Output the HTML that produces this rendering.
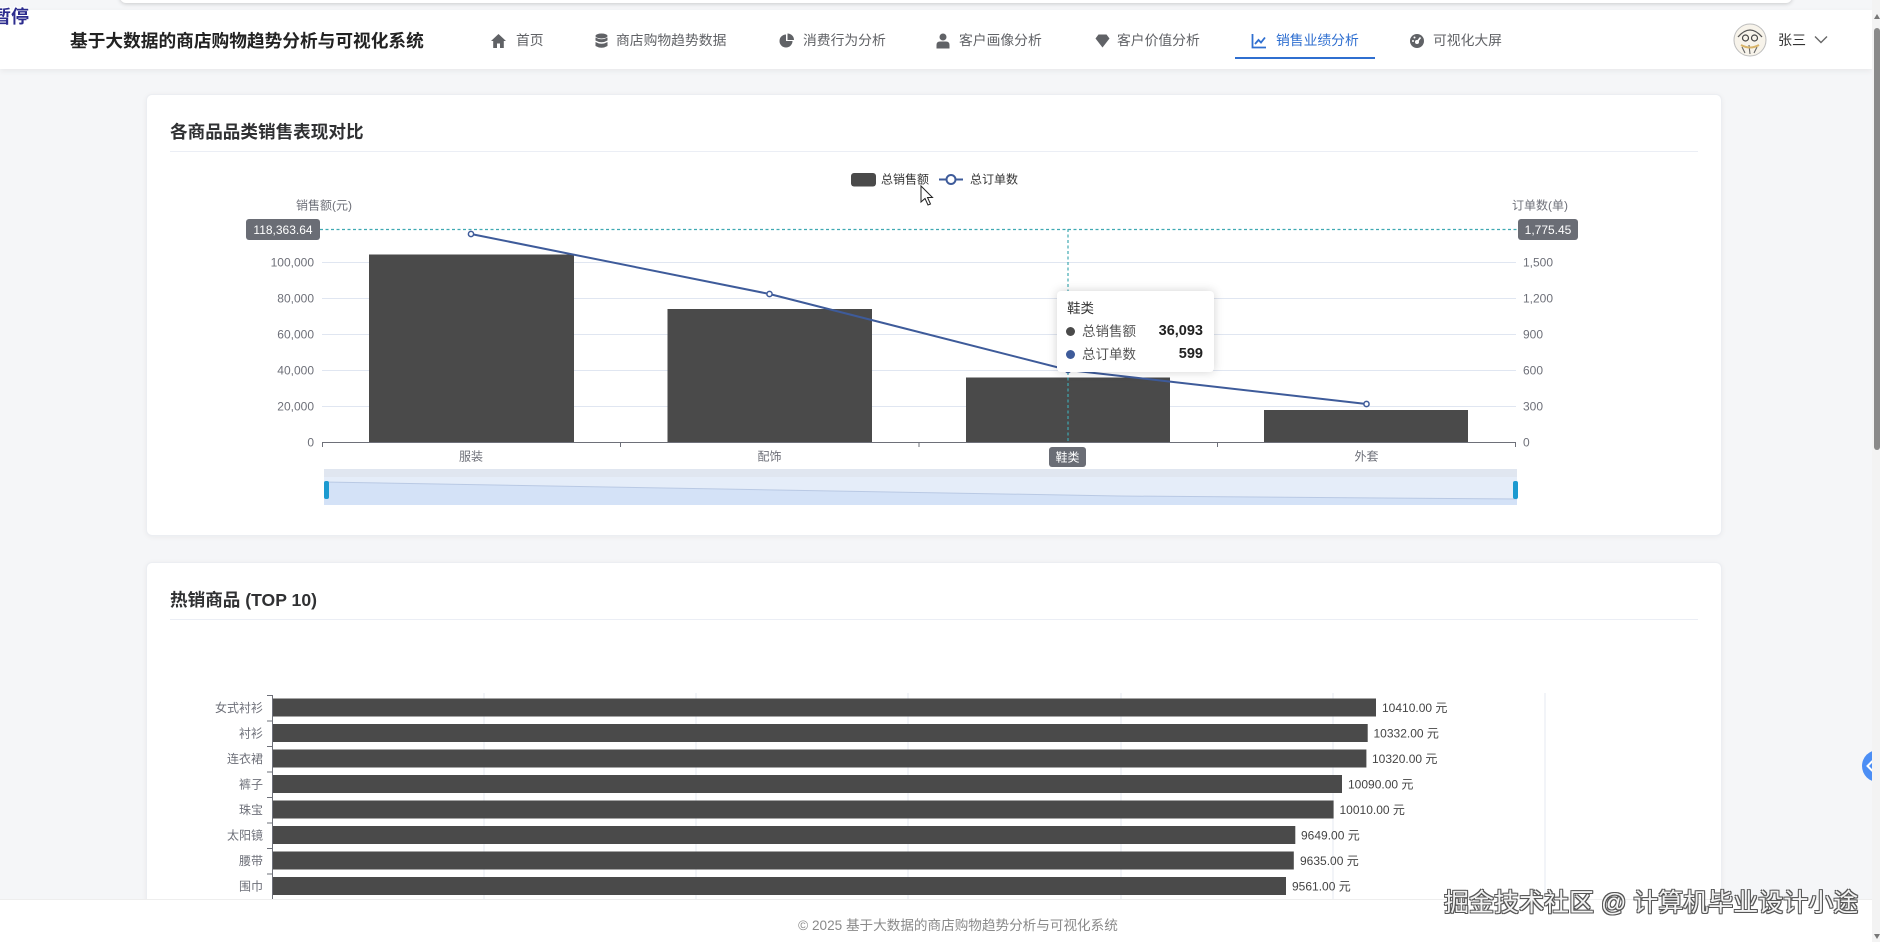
<!DOCTYPE html>
<html><head><meta charset="utf-8">
<style>
*{margin:0;padding:0;box-sizing:border-box}
html,body{width:1880px;height:942px;overflow:hidden;background:#f5f6f8;font-family:"Liberation Sans","Noto Sans CJK SC",sans-serif;position:relative}
.abs{position:absolute}
.topstrip{left:120px;top:-10px;width:1672px;height:13px;background:#fff;border-radius:6px;box-shadow:0 1px 4px rgba(0,0,0,.18)}
.nav{left:0;top:10px;width:1872px;height:59px;background:#fff;box-shadow:0 2px 6px rgba(0,0,0,.06)}
.title{left:70px;top:30px;font-size:17.7px;font-weight:bold;color:#222;line-height:22px;white-space:nowrap}
.ni{top:32px;font-size:13.8px;color:#606266;line-height:18px;white-space:nowrap}
.ic{top:33px}
.card{left:146px;width:1576px;background:#fff;border-radius:6px;border:1px solid #eceef2;box-shadow:0 1px 6px rgba(0,0,0,.05)}
.ct{left:170px;font-size:17.6px;font-weight:bold;color:#303133;line-height:22px;white-space:nowrap}
.div{left:170px;width:1528px;height:1px;background:#ebeef5}
.footer{left:0;top:899px;width:1872px;height:43px;background:#fff;border-top:1px solid #eeeeee}
.ftext{left:0;top:917px;width:1916px;text-align:center;font-size:13.6px;color:#8a8a8a;line-height:18px;white-space:nowrap}
.wm{left:1444px;top:887px;font-size:25px;color:#f4f4f4;line-height:32px;white-space:nowrap;font-family:"Liberation Sans","Noto Sans CJK SC",sans-serif;
text-shadow:1px 1px 0 #555,-1px -1px 0 #555,1px -1px 0 #555,-1px 1px 0 #555,0 1px 0 #555,1px 0 0 #555}
.tip{left:1057px;top:291px;width:157px;height:81px;background:#fff;border-radius:4px;box-shadow:0 0 10px rgba(0,0,0,.18)}
</style></head><body>

<div class="abs topstrip"></div>
<div class="abs nav"></div>
<div class="abs" style="left:-7px;top:6px;font-size:18px;font-weight:bold;color:#2c2c8e;line-height:22px;text-shadow:1px 1px 0 #fff,-1px -1px 0 #fff,1px -1px 0 #fff,-1px 1px 0 #fff">暂停</div>
<div class="abs title">基于大数据的商店购物趋势分析与可视化系统</div>

<!-- nav icons -->
<svg class="abs ic" style="left:490px" width="17" height="16" viewBox="0 0 17 16"><path d="M8.5 1 L1 8 H3.2 V15 H7 V10.5 H10 V15 H13.8 V8 H16 Z" fill="#606266"/></svg>
<div class="abs ni" style="left:516px">首页</div>
<svg class="abs ic" style="left:595px" width="13" height="16" viewBox="0 0 13 16"><ellipse cx="6.5" cy="3" rx="6" ry="2.5" fill="#606266"/><path d="M0.5 4.5 Q6.5 8 12.5 4.5 V7.5 Q6.5 11 0.5 7.5Z" fill="#606266"/><path d="M0.5 9 Q6.5 12.5 12.5 9 V13 Q6.5 16.5 0.5 13Z" fill="#606266"/></svg>
<div class="abs ni" style="left:616px">商店购物趋势数据</div>
<svg class="abs ic" style="left:779px" width="16" height="16" viewBox="0 0 16 16"><path d="M7 1.5 A6.5 6.5 0 1 0 13.5 8 H7Z" fill="#606266"/><path d="M8.5 0.5 A6.5 6.5 0 0 1 15 7 H8.5Z" fill="#606266"/></svg>
<div class="abs ni" style="left:803px">消费行为分析</div>
<svg class="abs ic" style="left:936px" width="14" height="16" viewBox="0 0 14 16"><circle cx="7" cy="4" r="3.5" fill="#606266"/><path d="M0.5 15.5 V12 Q0.5 8.5 4 8.5 H10 Q13.5 8.5 13.5 12 V15.5Z" fill="#606266"/></svg>
<div class="abs ni" style="left:959px">客户画像分析</div>
<svg class="abs ic" style="left:1095px" width="15" height="16" viewBox="0 0 15 16"><path d="M3.5 1.5 H11.5 L14.5 5.5 L7.5 14.5 L0.5 5.5Z" fill="#606266"/></svg>
<div class="abs ni" style="left:1117px">客户价值分析</div>
<svg class="abs ic" style="left:1251px" width="16" height="16" viewBox="0 0 16 16"><path d="M1.5 1 V14.5 H15" stroke="#2f6fd0" stroke-width="1.8" fill="none"/><path d="M4 11 L7.5 7 L10 9.5 L14 4.5" stroke="#2f6fd0" stroke-width="1.8" fill="none"/></svg>
<div class="abs ni" style="left:1276px;color:#2f6fd0">销售业绩分析</div>
<div class="abs" style="left:1235px;top:57px;width:140px;height:2px;background:#2f6fd0"></div>
<svg class="abs ic" style="left:1409px" width="16" height="16" viewBox="0 0 16 16"><circle cx="8" cy="8" r="7" fill="#606266"/><circle cx="8" cy="9" r="2" fill="#fff"/><path d="M8 9 L11.5 4.5" stroke="#fff" stroke-width="1.6"/><circle cx="4" cy="8" r="1" fill="#fff"/><circle cx="5.5" cy="4.5" r="1" fill="#fff"/></svg>
<div class="abs ni" style="left:1433px">可视化大屏</div>

<!-- avatar -->
<svg class="abs" style="left:1733px;top:23px" width="34" height="34" viewBox="0 0 34 34">
<circle cx="17" cy="17" r="16" fill="#f7f3ea" stroke="#bdbdbd" stroke-width="1"/>
<path d="M5 14 Q17 0 29 14" stroke="#555" stroke-width="1.3" fill="none"/>
<circle cx="12.5" cy="15" r="3" fill="none" stroke="#444" stroke-width="1.2"/><circle cx="21.5" cy="15" r="3" fill="none" stroke="#444" stroke-width="1.2"/>
<path d="M9 24 L12 30 M16 22 L17 31 M24 24 L21 30" stroke="#666" stroke-width="1.1"/>
<path d="M8 22 Q17 27 26 22" stroke="#d8b46a" stroke-width="2" fill="none"/>
</svg>
<div class="abs" style="left:1778px;top:31px;font-size:14px;color:#333;line-height:18px">张三</div>
<svg class="abs" style="left:1814px;top:35px" width="14" height="9" viewBox="0 0 14 9"><path d="M1 1.5 L7 7.5 L13 1.5" stroke="#666" stroke-width="1.4" fill="none"/></svg>

<!-- cards -->
<div class="abs card" style="top:94px;height:442px"></div>
<div class="abs ct" style="top:121px">各商品品类销售表现对比</div>
<div class="abs div" style="top:151px"></div>

<div class="abs card" style="top:562px;height:380px;border-bottom:none;border-radius:6px 6px 0 0"></div>
<div class="abs ct" style="top:589px">热销商品 (TOP 10)</div>
<div class="abs div" style="top:619px"></div>

<svg class="abs" style="left:0;top:0" width="1880" height="942" viewBox="0 0 1880 942" font-family="Liberation Sans, Noto Sans CJK SC, sans-serif">
<!-- chart1 grid -->
<g stroke="#e0e6f1" stroke-width="1">
<line x1="322" y1="406.5" x2="1516" y2="406.5"/>
<line x1="322" y1="370.5" x2="1516" y2="370.5"/>
<line x1="322" y1="334.5" x2="1516" y2="334.5"/>
<line x1="322" y1="298.5" x2="1516" y2="298.5"/>
<line x1="322" y1="262.5" x2="1516" y2="262.5"/>
</g>
<g font-size="12" fill="#6e7079" text-anchor="end">
<text x="314" y="446.5">0</text>
<text x="314" y="410.5">20,000</text>
<text x="314" y="374.5">40,000</text>
<text x="314" y="338.5">60,000</text>
<text x="314" y="302.5">80,000</text>
<text x="314" y="266.5">100,000</text>
</g>
<g font-size="12" fill="#6e7079">
<text x="1523" y="446.5">0</text>
<text x="1523" y="410.5">300</text>
<text x="1523" y="374.5">600</text>
<text x="1523" y="338.5">900</text>
<text x="1523" y="302.5">1,200</text>
<text x="1523" y="266.5">1,500</text>
<text x="296" y="209.5">销售额(元)</text>
<text x="1512" y="209.5">订单数(单)</text>
</g>
<!-- bars -->
<g fill="#4a4a4a">
<rect x="369" y="254.5" width="205" height="188"/>
<rect x="667.5" y="309" width="204.5" height="133.5"/>
<rect x="966" y="377.5" width="204" height="65"/>
<rect x="1264" y="410" width="204" height="32.5"/>
</g>
<!-- x axis -->
<g stroke="#6e7079" stroke-width="1">
<line x1="322" y1="442.5" x2="1516" y2="442.5"/>
<line x1="322.5" y1="442.5" x2="322.5" y2="447"/>
<line x1="620.5" y1="442.5" x2="620.5" y2="447"/>
<line x1="919" y1="442.5" x2="919" y2="447"/>
<line x1="1217.5" y1="442.5" x2="1217.5" y2="447"/>
<line x1="1515.5" y1="442.5" x2="1515.5" y2="447"/>
</g>
<g font-size="12" fill="#6e7079" text-anchor="middle">
<text x="471" y="460.5">服装</text>
<text x="769.5" y="460.5">配饰</text>
<text x="1366.5" y="460.5">外套</text>
</g>
<!-- crosshair -->
<g stroke="#3fa9b2" stroke-width="1.2" stroke-dasharray="3,2.5">
<line x1="320" y1="229.5" x2="1518" y2="229.5"/>
<line x1="1068" y1="229" x2="1068" y2="442"/>
</g>
<rect x="246" y="219" width="74" height="21" rx="3" fill="#6a6d75"/>
<text x="283" y="234" font-size="12" fill="#fff" text-anchor="middle">118,363.64</text>
<rect x="1518" y="219" width="60" height="21" rx="3" fill="#6a6d75"/>
<text x="1548" y="234" font-size="12" fill="#fff" text-anchor="middle">1,775.45</text>
<rect x="1049" y="447" width="37" height="20" rx="3" fill="#6a6d75"/>
<text x="1067.5" y="461.5" font-size="12" fill="#fff" text-anchor="middle">鞋类</text>
<!-- line series -->
<polyline points="471,234 769.5,294 1068,370 1366.5,404" fill="none" stroke="#3e5b9a" stroke-width="2"/>
<g fill="#fff" stroke="#3e5b9a" stroke-width="1.5">
<circle cx="471" cy="234" r="2.6"/><circle cx="769.5" cy="294" r="2.6"/><circle cx="1068" cy="370" r="2.6"/><circle cx="1366.5" cy="404" r="2.6"/>
</g>
<!-- legend -->
<rect x="851" y="173" width="25" height="13.5" rx="3" fill="#4a4a4a"/>
<text x="881" y="183.5" font-size="12" fill="#333">总销售额</text>
<line x1="939" y1="179.5" x2="963" y2="179.5" stroke="#3e5b9a" stroke-width="2"/>
<circle cx="951" cy="179.5" r="4.5" fill="#fff" stroke="#3e5b9a" stroke-width="2"/>
<text x="970" y="183.5" font-size="12" fill="#333">总订单数</text>
<!-- datazoom -->
<rect x="324" y="469" width="1193" height="36" fill="#e5edf9"/>
<rect x="324" y="469" width="1193" height="8" fill="#e0e6f0"/>
<polygon points="324,482 722,489 1119,496 1517,499 1517,505 324,505" fill="#d4e2f7"/>
<polyline points="324,482 722,489 1119,496 1517,499" fill="none" stroke="#b9c9e4" stroke-width="1"/>
<rect x="324" y="481" width="5" height="18" rx="2" fill="#1c9ad0"/>
<rect x="1513" y="481" width="5" height="18" rx="2" fill="#1c9ad0"/>
<!-- cursor -->
<path d="M921 186 L921 202 L925 198.5 L928 205 L930.5 204 L927.5 197.5 L932.5 197.5 Z" fill="#fff" stroke="#222" stroke-width="1"/>

<!-- chart2 -->
<g stroke="#e6eaf2" stroke-width="1">
<line x1="484" y1="693" x2="484" y2="900"/>
<line x1="696" y1="693" x2="696" y2="900"/>
<line x1="908" y1="693" x2="908" y2="900"/>
<line x1="1121" y1="693" x2="1121" y2="900"/>
<line x1="1333" y1="693" x2="1333" y2="900"/>
<line x1="1545" y1="693" x2="1545" y2="900"/>
</g>
<g fill="#4a4a4a">
<rect x="272" y="698.5" width="1104" height="18"/>
<rect x="272" y="724" width="1095.7" height="18"/>
<rect x="272" y="749.5" width="1094.4" height="18"/>
<rect x="272" y="775" width="1070" height="18"/>
<rect x="272" y="800.5" width="1061.6" height="18"/>
<rect x="272" y="826" width="1023.3" height="18"/>
<rect x="272" y="851.5" width="1021.8" height="18"/>
<rect x="272" y="877" width="1014" height="18"/>
</g>
<g stroke="#6e7079" stroke-width="1">
<line x1="272.5" y1="695" x2="272.5" y2="900"/>
<line x1="267" y1="695.5" x2="272" y2="695.5"/>
<line x1="267" y1="721" x2="272" y2="721"/>
<line x1="267" y1="746.5" x2="272" y2="746.5"/>
<line x1="267" y1="772" x2="272" y2="772"/>
<line x1="267" y1="797.5" x2="272" y2="797.5"/>
<line x1="267" y1="823" x2="272" y2="823"/>
<line x1="267" y1="848.5" x2="272" y2="848.5"/>
<line x1="267" y1="874" x2="272" y2="874"/>
</g>
<g font-size="12" fill="#6e7079" text-anchor="end">
<text x="263" y="712">女式衬衫</text>
<text x="263" y="737.5">衬衫</text>
<text x="263" y="763">连衣裙</text>
<text x="263" y="788.5">裤子</text>
<text x="263" y="814">珠宝</text>
<text x="263" y="839.5">太阳镜</text>
<text x="263" y="865">腰带</text>
<text x="263" y="890.5">围巾</text>
</g>
<g font-size="12" fill="#444">
<text x="1382" y="712">10410.00 元</text>
<text x="1373.5" y="737.5">10332.00 元</text>
<text x="1372" y="763">10320.00 元</text>
<text x="1348" y="788.5">10090.00 元</text>
<text x="1339.5" y="814">10010.00 元</text>
<text x="1301" y="839.5">9649.00 元</text>
<text x="1300" y="865">9635.00 元</text>
<text x="1292" y="890.5">9561.00 元</text>
</g>
</svg>

<!-- tooltip -->
<div class="abs tip">
  <div class="abs" style="left:10px;top:9px;font-size:13.5px;color:#333;line-height:18px">鞋类</div>
  <div class="abs" style="left:9px;top:36px;width:9px;height:9px;border-radius:50%;background:#4a4a4a"></div>
  <div class="abs" style="left:25px;top:32px;font-size:13.5px;color:#555;line-height:18px">总销售额</div>
  <div class="abs" style="right:11px;top:31px;font-size:14.5px;font-weight:bold;color:#222;line-height:18px">36,093</div>
  <div class="abs" style="left:9px;top:59px;width:9px;height:9px;border-radius:50%;background:#3e5b9a"></div>
  <div class="abs" style="left:25px;top:55px;font-size:13.5px;color:#555;line-height:18px">总订单数</div>
  <div class="abs" style="right:11px;top:54px;font-size:14.5px;font-weight:bold;color:#222;line-height:18px">599</div>
</div>

<!-- footer -->
<div class="abs footer"></div>
<div class="abs ftext">© 2025 基于大数据的商店购物趋势分析与可视化系统</div>
<div class="abs wm">掘金技术社区 @ 计算机毕业设计小途</div>

<!-- side button -->
<div class="abs" style="left:1862px;top:750px;width:18px;height:32px;border-radius:16px 0 0 16px;background:#4b8ef5"></div>
<svg class="abs" style="left:1866px;top:760px" width="8" height="12" viewBox="0 0 8 12"><path d="M6.5 1 L1.5 6 L6.5 11" stroke="#fff" stroke-width="2" fill="none"/></svg>

<!-- scrollbar -->
<div class="abs" style="left:1872px;top:0;width:8px;height:942px;background:#f3f3f3"></div>
<div class="abs" style="left:1874px;top:28px;width:6px;height:422px;border-radius:3px;background:#8a8a8a"></div>
<svg class="abs" style="left:1874px;top:14px" width="6" height="5"><path d="M3 0 L6 5 H0Z" fill="#777"/></svg>
<svg class="abs" style="left:1874px;top:934px" width="6" height="5"><path d="M0 0 H6 L3 5Z" fill="#777"/></svg>
</body></html>
